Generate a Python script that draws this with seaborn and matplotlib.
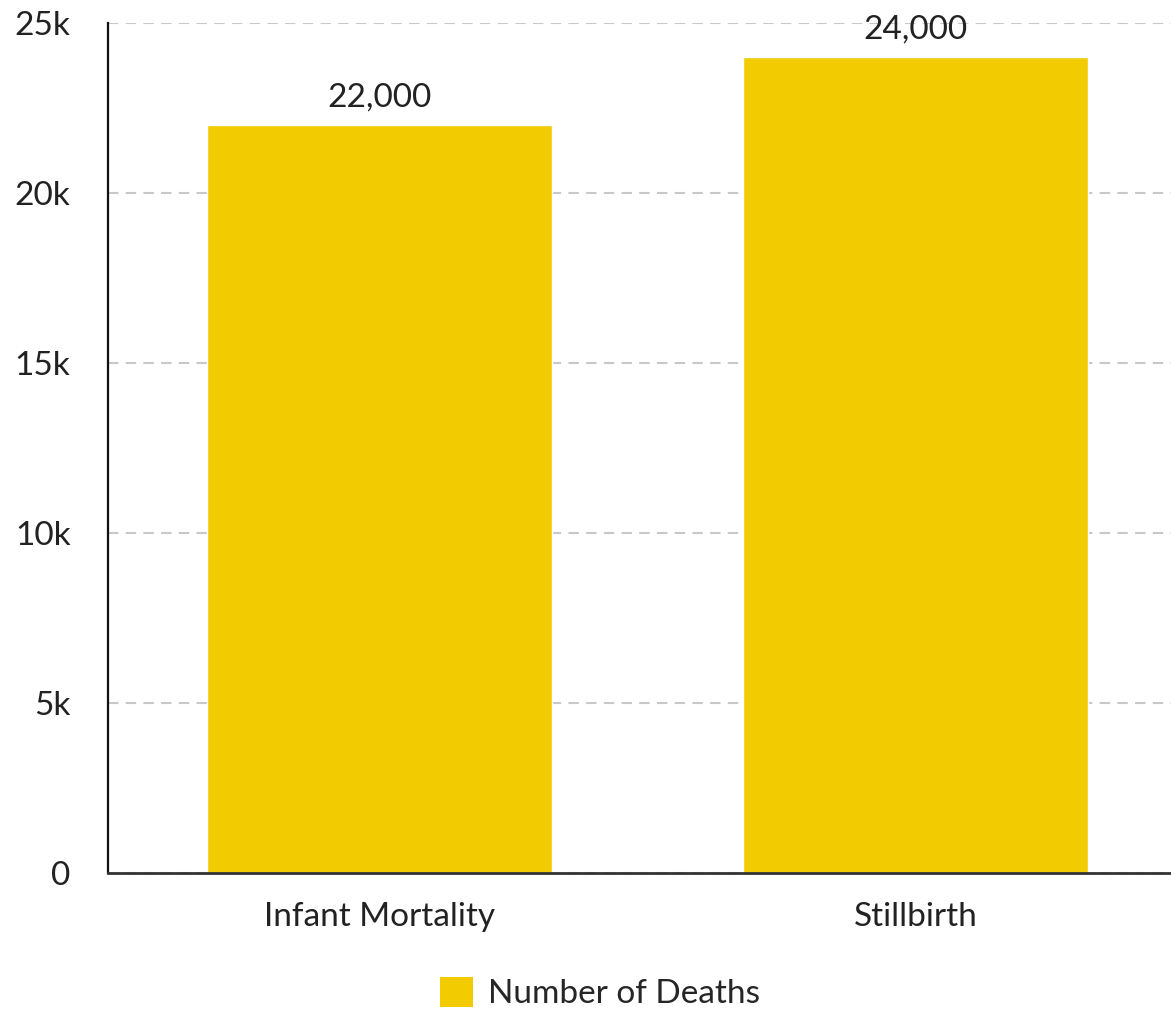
import matplotlib
matplotlib.use("Agg")
import matplotlib.pyplot as plt
import matplotlib.ticker as mticker
from matplotlib.patches import Patch
import seaborn as sns
import pandas as pd

# 数据
categories = ["Infant Mortality", "Stillbirth"]
deaths = [22000, 24000]
series_name = "Number of Deaths"
bar_color = "#F2CC00"

sns.set_theme(style="white")
plt.rcParams['font.family'] = ['Lato', 'DejaVu Sans']

df = pd.DataFrame({"category": categories, "deaths": deaths})

fig = plt.figure(figsize=(11.71, 10.11), dpi=100)
ax = fig.add_axes([108 / 1171, 1 - 873 / 1011, 1 - 108 / 1171, (873 - 23) / 1011])

sns.barplot(data=df, x="category", y="deaths", color=bar_color, width=0.644,
            saturation=1, ax=ax, zorder=3)

ax.set_ylim(0, 25000)
ax.set_xlim(-0.5065, 1.4767)
ax.yaxis.set_major_locator(mticker.MultipleLocator(5000))
ax.yaxis.set_major_formatter(mticker.FuncFormatter(lambda v, p: "0" if v == 0 else f"{int(v / 1000)}k"))
ax.grid(axis="y", color="#c8c8c8", linestyle=(0, (5, 3.5)), linewidth=1.5, zorder=0)
ax.set_xlabel("")
ax.set_ylabel("")

for s in ["top", "right"]:
    ax.spines[s].set_visible(False)
ax.spines["left"].set_color("#111111")
ax.spines["left"].set_linewidth(1.6)
ax.spines["bottom"].set_color("#333333")
ax.spines["bottom"].set_linewidth(2)
ax.spines["bottom"].set_zorder(4)

ax.tick_params(axis="y", length=0, pad=27, labelsize=24, labelcolor="#222222")
ax.tick_params(axis="x", length=0, pad=21, labelsize=24, labelcolor="#222222")

# 数值标签
for c in ax.containers:
    ax.bar_label(c, labels=[f"{int(v):,}" for v in c.datavalues], padding=9,
                 fontsize=24, color="#222222")

handles = [Patch(facecolor=bar_color, edgecolor="none", label=series_name)]
fig.legend(handles=handles, loc="center", bbox_to_anchor=(600 / 1171, 1 - 993 / 1011),
           frameon=False, fontsize=24, handlelength=1.0, handleheight=1.0,
           handletextpad=0.45)

fig.savefig("out.png", dpi=100)
